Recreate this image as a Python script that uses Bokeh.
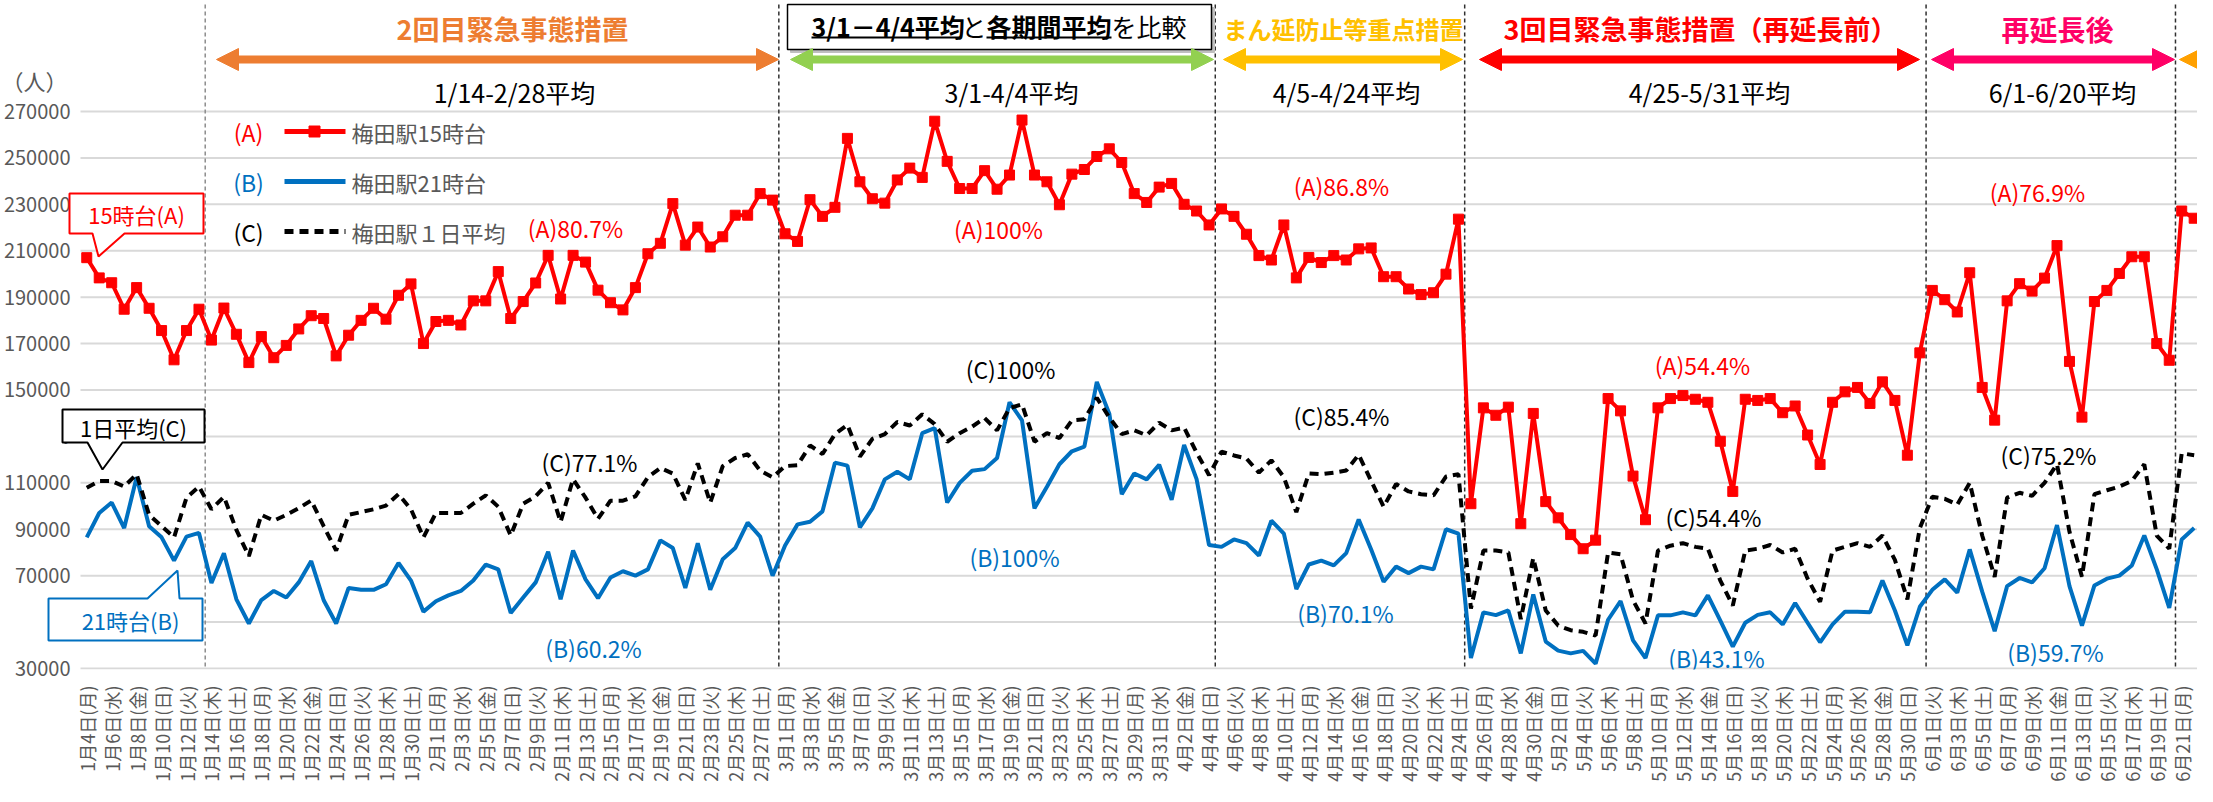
import datetime
import math
from bokeh.plotting import figure
from bokeh.models import (Range1d, FixedTicker, BasicTickFormatter, Arrow, NormalHead,
                          Label, PolyAnnotation)
from bokeh.embed import file_html
from bokeh.resources import INLINE

FONT = "Noto Sans CJK JP"

# ---------------- data ----------------
start_date = datetime.date(2021, 1, 4)
n_days = 170
weekday_jp = ["月", "火", "水", "木", "金", "土", "日"]
dates = [start_date + datetime.timedelta(days=i) for i in range(n_days)]
date_labels = [f"{d.month}月{d.day}日({weekday_jp[d.weekday()]})" for d in dates]

# (A) 梅田駅15時台
umeda_15 = [
    207000, 198300, 196200, 184800, 194100, 185200, 175600, 163000, 175600, 184800,
    171500, 185300, 174000, 161800, 173000, 163900, 169200, 176300, 182000, 180800,
    164700, 173600, 180000, 185200, 180500, 190800, 195700, 170000, 179500, 180000,
    178000, 188400, 188400, 201000, 180800, 188100, 196100, 208000, 189200, 208000,
    205100, 193000, 187600, 184500, 194100, 208700, 213200, 230300, 212400, 220200,
    211600, 216000, 225300, 225300, 234600, 231800, 217300, 214000, 232000, 224800,
    228700, 258400, 239700, 232400, 230500, 240500, 245600, 241600, 265800, 248500,
    236800, 236800, 244500, 236500, 242600, 266300, 242600, 239700, 229800, 243000,
    245000, 250600, 253900, 248000, 234600, 230800, 237400, 239000, 230000, 227100,
    221100, 228000, 224800, 217100, 207900, 206000, 221100, 198300, 207100, 204900,
    207900, 206000, 210800, 211200, 198800, 198800, 193500, 191100, 191900, 199900,
    223600, 101000, 142300, 139100, 142600, 92400, 139900, 101900, 94900, 87700,
    81600, 85300, 146300, 141000, 112900, 94100, 142300, 146300, 147600, 146000,
    144700, 127900, 106300, 146000, 145500, 146300, 140200, 143100, 130600, 117900,
    144700, 149200, 151100, 144200, 153500, 145500, 121900, 166000, 192900, 188900,
    183600, 200500, 151100, 137000, 188400, 195800, 192600, 198200, 212200, 162300,
    138300, 188100, 192900, 200200, 207400, 207400, 170000, 162800, 227100, 224000,
]

# (B) 梅田駅21時台
umeda_21 = [
    86500, 97000, 101500, 90500, 112400, 91300, 86500, 76500, 86800, 88400,
    66800, 79700, 59800, 49400, 59500, 63400, 60600, 67100, 76300, 59400,
    49400, 64700, 63900, 63900, 66300, 75500, 67900, 54500, 59000, 61500,
    63400, 67900, 74800, 72700, 53900, 60600, 67100, 80300, 59800, 80800,
    68400, 60300, 69200, 71900, 70000, 72700, 85200, 81900, 64700, 84000,
    63900, 77100, 81900, 92900, 86800, 70000, 83000, 92100, 93200, 97700,
    118700, 117400, 90800, 99000, 111500, 114800, 111500, 131400, 133600, 101500,
    110000, 115200, 115900, 120700, 144700, 136900, 99000, 108300, 118000, 123600,
    125600, 153500, 139800, 105100, 114000, 111500, 117800, 102700, 126300, 111600,
    83200, 82400, 85600, 84000, 78700, 93700, 88100, 64200, 74800, 76500,
    74400, 79700, 94200, 81300, 67400, 73900, 71100, 73900, 72700, 90000,
    88100, 34500, 54200, 53000, 55000, 36500, 61900, 41600, 37700, 36500,
    37600, 32100, 51000, 59000, 42100, 34500, 52900, 52900, 54200, 52900,
    61500, 50600, 39400, 49700, 53100, 54200, 49000, 58200, 49700, 41300,
    49000, 54500, 54500, 54200, 67900, 55000, 40000, 56600, 63900, 68400,
    62700, 81300, 63100, 46100, 65500, 69000, 67100, 73200, 91800, 65500,
    48500, 65800, 68700, 70000, 74400, 87300, 72700, 56100, 85600, 90500,
]

# (C) 梅田駅１日平均
umeda_day = [
    107900, 110800, 110800, 108400, 113700, 96200, 91300, 86500, 103600, 108400,
    98600, 104000, 89700, 78400, 96200, 93700, 96200, 99100, 102400, 91300,
    80800, 96200, 97400, 98600, 100200, 105100, 98600, 86500, 97000, 97000,
    97000, 101000, 104600, 99700, 87300, 101000, 104200, 110000, 93200, 111600,
    103600, 94500, 102300, 102300, 104200, 112400, 116400, 114000, 102600, 118400,
    101400, 117200, 120700, 122300, 115300, 112400, 117200, 117600, 126100, 122400,
    131000, 135000, 121300, 128900, 131000, 136200, 134700, 139500, 135300, 127700,
    131400, 134200, 137900, 132600, 142200, 143800, 127700, 131400, 129300, 136900,
    137400, 146600, 138200, 131000, 132600, 130500, 135900, 132600, 133800, 123000,
    113300, 123400, 121800, 120500, 114400, 119700, 112400, 97400, 114000, 113700,
    114400, 115300, 122100, 110800, 99700, 109500, 106300, 105100, 104600, 112700,
    113700, 55800, 80800, 80800, 80000, 51300, 77600, 55000, 48500, 46500,
    45800, 44200, 80000, 79200, 59400, 49400, 80800, 82900, 84000, 82400,
    81600, 67900, 57100, 80800, 81600, 83200, 80000, 81600, 68700, 58700,
    80800, 82400, 84000, 82400, 87300, 76800, 59800, 90500, 104000, 103100,
    100600, 110000, 87300, 69500, 103600, 105700, 104400, 110000, 118000, 88900,
    69500, 105100, 106800, 108400, 110800, 118000, 87300, 81600, 122700, 121900,
]

y_ticks = [30000, 50000, 70000, 90000, 110000, 130000, 150000, 170000,
           190000, 210000, 230000, 250000, 270000]

period_starts = ["2021-01-14", "2021-03-01", "2021-04-05", "2021-04-25", "2021-06-01", "2021-06-21"]
period_titles = ["2回目緊急事態措置", "まん延防止等重点措置", "3回目緊急事態措置（再延長前）", "再延長後"]
period_avg_labels = ["1/14-2/28平均", "3/1-4/4平均", "4/5-4/24平均", "4/25-5/31平均", "6/1-6/20平均"]
pct_labels = ["(A)80.7%", "(C)77.1%", "(B)60.2%",
              "(A)100%", "(C)100%", "(B)100%",
              "(A)86.8%", "(C)85.4%", "(B)70.1%",
              "(A)54.4%", "(C)54.4%", "(B)43.1%",
              "(A)76.9%", "(C)75.2%", "(B)59.7%"]

RED = "#FF0000"
BLUE = "#0070C0"
BLACK = "#000000"
GRAY = "#595959"
GRID = "#D9D9D9"

# ---------------- layout helpers (reference pixel -> data) ----------------
PXI = 12.47          # px per day
X0_PX = 94.25        # reference px of the first day
FRAME_B = 677        # reference px of y=30000
PX_PER_20K = 46.42


def X(px):
    return (px - X0_PX) / PXI


def Y(py):
    return 30000 + (FRAME_B - py) * 20000 / PX_PER_20K


p = figure(width=2197, height=786,
           x_range=Range1d(X(8), X(2205)), y_range=Range1d(Y(678), Y(9)),
           output_backend="svg", toolbar_location=None,
           min_border_left=0, min_border_right=0, min_border_top=0, min_border_bottom=117)
p.outline_line_color = None
p.background_fill_color = "white"
p.border_fill_color = "white"

# axes
p.yaxis.ticker = FixedTicker(ticks=y_ticks)
p.yaxis.formatter = BasicTickFormatter(use_scientific=False)
p.yaxis.axis_line_color = None
p.yaxis.major_tick_line_color = None
p.yaxis.minor_tick_line_color = None
p.yaxis.major_tick_out = 0
p.yaxis.major_tick_in = 0
p.yaxis.major_label_text_font = FONT
p.yaxis.major_label_text_font_size = "20px"
p.yaxis.major_label_text_color = GRAY
p.yaxis.major_label_standoff = -70

p.xaxis.ticker = FixedTicker(ticks=list(range(0, n_days, 2)))
p.xaxis.major_label_overrides = {i: date_labels[i] for i in range(0, n_days, 2)}
p.xaxis.major_label_orientation = math.pi / 2
p.xaxis.axis_line_color = None
p.xaxis.major_tick_line_color = None
p.xaxis.minor_tick_line_color = None
p.xaxis.major_label_text_font = FONT
p.xaxis.major_label_text_font_size = "18px"
p.xaxis.major_label_text_color = GRAY
p.xaxis.major_label_standoff = 10

p.xgrid.grid_line_color = None
p.ygrid.grid_line_color = None
# horizontal grid lines starting where the value area starts
p.segment(x0=[X(88)] * len(y_ticks), y0=y_ticks, x1=[X(2205)] * len(y_ticks), y1=y_ticks,
          line_color=GRID, line_width=2)

# period boundary dashed lines
bounds = [(datetime.date.fromisoformat(s) - start_date).days - 0.5 for s in period_starts]
for k, b in enumerate(bounds):
    p.segment(x0=[b], y0=[Y(13)], x1=[b], y1=[30000],
              line_color="#8C8C8C" if k == 0 else "#303030",
              line_width=1.5, line_dash="4 3")

# ---------------- series ----------------
idx = list(range(n_days))
p.line(idx, umeda_21, line_color=BLUE, line_width=4)
p.line(idx, umeda_day, line_color=BLACK, line_width=4, line_dash="9 6")
p.line(idx, umeda_15, line_color=RED, line_width=4)
p.scatter(idx, umeda_15, marker="square", size=10, fill_color=RED, line_color=RED)

# ---------------- header ----------------
title_pos = [(520, "#ED7D31", "27px"), (1351, "#FFC000", "24px"),
             (1708, "#FF0000", "27px"), (2065, "#FF0066", "28px")]
for t, (cx, col, fs) in zip(period_titles, title_pos):
    p.add_layout(Label(x=X(cx), y=Y(37), text=t, text_font=FONT, text_font_size=fs,
                       text_font_style="bold", text_color=col,
                       text_align="center", text_baseline="middle"))

avg_pos = [522, 1019, 1354, 1717, 2070]
for t, cx in zip(period_avg_labels, avg_pos):
    p.add_layout(Label(x=X(cx), y=Y(100), text=t, text_font=FONT, text_font_size="25px",
                       text_color=BLACK, text_align="center", text_baseline="middle"))

arrows = [(224, 786, "#ED7D31"), (798, 1221, "#92D050"), (1231, 1470, "#FFC000"),
          (1487, 1927, "#FF0000"), (1939, 2182, "#FF0066")]
for x0, x1, col in arrows:
    p.add_layout(Arrow(start=NormalHead(size=22, fill_color=col, line_color=col),
                       end=NormalHead(size=22, fill_color=col, line_color=col),
                       x_start=X(x0), y_start=Y(68), x_end=X(x1), y_end=Y(68),
                       line_color=col, line_width=8))
p.add_layout(Arrow(start=NormalHead(size=22, fill_color="#FFA000", line_color="#FFA000"),
                   end=None, x_start=X(2187), y_start=Y(68), x_end=X(2300), y_end=Y(68),
                   line_color="#FFA000", line_width=8))

# comparison box
p.quad(left=[X(798)], right=[X(1222)], top=[Y(16)], bottom=[Y(61)],
       fill_color="#BFBFBF", line_color="#BFBFBF")
p.quad(left=[X(795)], right=[X(1219)], top=[Y(13)], bottom=[Y(58)],
       fill_color="white", line_color=BLACK, line_width=1.5)
box_parts = [("3/1－4/4平均", 819, "bold", True), ("と", 969, "normal", False),
             ("各期間平均", 994, "bold", True), ("を比較", 1119, "normal", False)]
widths = [150, 25, 125, 75]
for (t, x0, style, ul), w in zip(box_parts, widths):
    p.add_layout(Label(x=X(x0), y=Y(34), text=t, text_font=FONT, text_font_size="25px",
                       text_font_style=style, text_color=BLACK,
                       text_align="left", text_baseline="middle"))
    if ul:
        p.line([X(x0), X(x0 + w)], [Y(46), Y(46)], line_color=BLACK, line_width=2)

# unit label
p.add_layout(Label(x=X(42), y=Y(88), text="（人）", text_font=FONT, text_font_size="22px",
                   text_color=GRAY, text_align="center", text_baseline="middle"))

# ---------------- legend ----------------
legend_rows = [("(A)", RED, "梅田駅15時台", 140, None),
               ("(B)", BLUE, "梅田駅21時台", 190, None),
               ("(C)", BLACK, "梅田駅１日平均", 240, "9 6")]
for tag, col, name, py, dash in legend_rows:
    p.add_layout(Label(x=X(256), y=Y(py), text=tag, text_font=FONT, text_font_size="23px",
                       text_color=col, text_align="center", text_baseline="middle"))
    if dash:
        p.line([X(292), X(353)], [Y(py), Y(py)], line_color=col, line_width=5, line_dash=dash)
    else:
        p.line([X(292), X(353)], [Y(py), Y(py)], line_color=col, line_width=5)
    p.add_layout(Label(x=X(359), y=Y(py), text=name, text_font=FONT, text_font_size="22px",
                       text_color=GRAY, text_align="left", text_baseline="middle"))
p.scatter([X(322)], [Y(140)], marker="square", size=11, fill_color=RED, line_color=RED)

# ---------------- percentage labels ----------------
pct_pos = [(583, 236), (597, 470), (601, 656),
           (1006, 237), (1018, 377), (1022, 565),
           (1349, 194), (1349, 424), (1353, 621),
           (1710, 373), (1721, 525), (1724, 666),
           (2045, 200), (2056, 463), (2063, 660)]
col_of = {"A": RED, "B": BLUE, "C": BLACK}
for t, (cx, cy) in zip(pct_labels, pct_pos):
    p.add_layout(Label(x=X(cx), y=Y(cy), text=t, text_font=FONT, text_font_size="23px",
                       text_color=col_of[t[1]], text_align="center", text_baseline="middle"))

# ---------------- callouts ----------------
# white areas of the callout shapes that hide the axis labels behind them
for (top, bottom) in [(416, 460), (605, 651)]:
    p.add_layout(PolyAnnotation(xs=[X(2), X(72), X(72), X(2)],
                                ys=[Y(top), Y(top), Y(bottom), Y(bottom)],
                                fill_color="white", fill_alpha=1.0, line_alpha=0.0))
callouts = [
    ([(77, 202), (211, 202), (211, 242), (132, 242), (106, 265), (100, 242), (77, 242)],
     "15時台(A)", RED, (144, 222)),
    ([(70, 418), (212, 418), (212, 451), (130, 451), (110, 478), (95, 451), (70, 451)],
     "1日平均(C)", BLACK, (141, 435)),
    ([(56, 607), (155, 607), (185, 579), (187, 607), (210, 607), (210, 649), (56, 649)],
     "21時台(B)", BLUE, (138, 628)),
]
for pts, t, col, (tx, ty) in callouts:
    p.add_layout(PolyAnnotation(xs=[X(a) for a, _ in pts], ys=[Y(b) for _, b in pts],
                                fill_color="white", fill_alpha=1.0,
                                line_color=col, line_alpha=1.0, line_width=2))
    p.add_layout(Label(x=X(tx), y=Y(ty), text=t, text_font=FONT, text_font_size="22px",
                       text_color=col, text_align="center", text_baseline="middle"))

open("out.html", "w").write(file_html(p, INLINE))
